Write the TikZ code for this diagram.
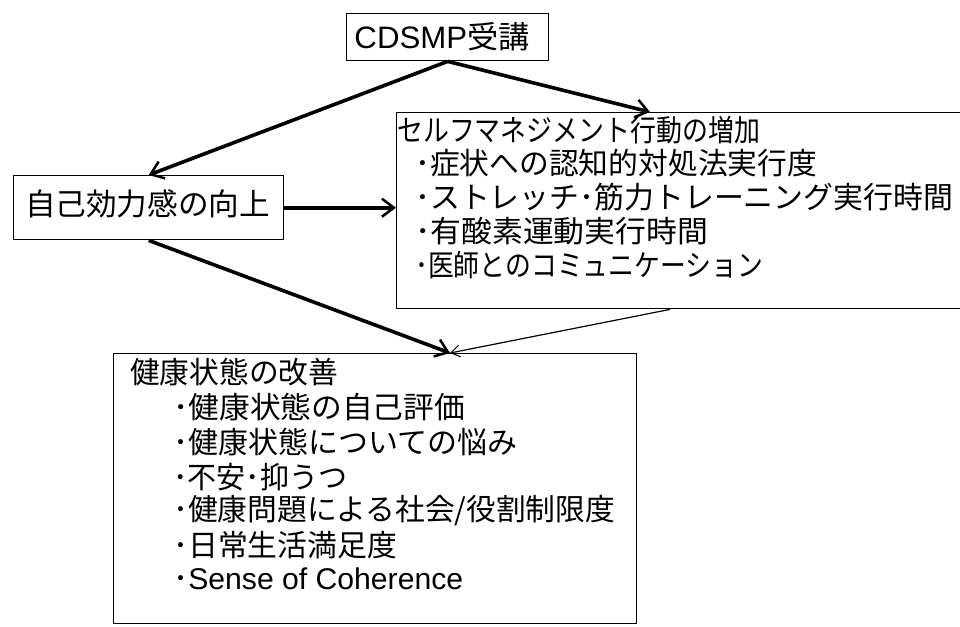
\documentclass[tikz,border=0pt]{standalone}
\usepackage{graphicx}
\usepackage{fontspec}
\setmainfont{Noto Sans CJK JP}
\newfontfamily\lat{Liberation Sans}
\usetikzlibrary{arrows.meta,calc}
\newcommand\fw[2]{\resizebox{#1pt}{\height}{#2}}
\tikzset{
  box/.style={draw=black,line width=1.4pt,inner sep=0pt,anchor=north west},
  txt/.style={inner sep=0pt,anchor=west,font=\fontsize{30}{34}\selectfont},
  big/.style={-{Straight Barb[length=12pt,width=18pt,line width=2.5pt]},line width=3.6pt},
  thin/.style={-{Straight Barb[length=9pt,width=12pt,line width=1pt]},line width=1.2pt}
}
\begin{document}
\begin{tikzpicture}[x=1pt,y=-1pt]
\path[use as bounding box] (0,0) rectangle (960,626);
\clip (0,0) rectangle (960,626);
% boxes
\node[box,minimum width=202pt,minimum height=47pt] (cd) at (346,13) {};
\node[box,minimum width=270pt,minimum height=64pt] (se) at (13,175) {};
\node[box,minimum width=580pt,minimum height=196pt] (sm) at (396,112) {};
\node[box,minimum width=523pt,minimum height=270pt] (hs) at (113,353) {};
% texts
\node[inner sep=0pt,font=\fontsize{31}{36}\selectfont] (cdt) at (442,37) {\fw{175}{{\lat CDSMP}受講}};
\node[inner sep=0pt,font=\fontsize{30.5}{36}\selectfont] (set) at (147.5,204) {\fw{245}{自己効力感の向上}};
\node[txt] (sm1) at (397,130) {\fw{363}{セルフマネジメント行動の増加}};
\node[txt] (sm2) at (415,163) {\fw{402}{･症状への認知的対処法実行度}};
\node[txt] (sm3) at (415,197) {\fw{538}{･ストレッチ･筋力トレーニング実行時間}};
\node[txt] (sm4) at (415,231) {\fw{293}{･有酸素運動実行時間}};
\node[txt] (sm5) at (415,265) {\fw{348}{･医師とのコミュニケーション}};
\node[txt] (hs1) at (130,372) {\fw{208}{健康状態の改善}};
\node[txt] (hs2) at (173,407) {\fw{292}{･健康状態の自己評価}};
\node[txt] (hs3) at (173,442) {\fw{344}{･健康状態についての悩み}};
\node[txt] (hs4) at (173,477) {\fw{174}{･不安･抑うつ}};
\node[txt] (hs5) at (173,511) {\fw{442}{･健康問題による社会/役割制限度}};
\node[txt] (hs6) at (173,545) {\fw{224}{･日常生活満足度}};
\node[txt] (hs7) at (173,579) {\fw{290}{･{\lat Sense of Coherence}}};
% connector points
\coordinate (smin) at ($(sm.north west)+(254,0)$);
\coordinate (hsin) at ($(hs.north west)+(337,0)$);
\coordinate (smout) at ($(sm.south west)+(274,0)$);
% connectors
\draw[big] (cd.south) -- (se.north);
\draw[big] (cd.south) -- (smin);
\draw[big] (se.east) -- (se.east -| sm.west);
\draw[big] (se.south) -- (hsin);
\draw[thin] (smout) -- (hsin);
\end{tikzpicture}
\end{document}
